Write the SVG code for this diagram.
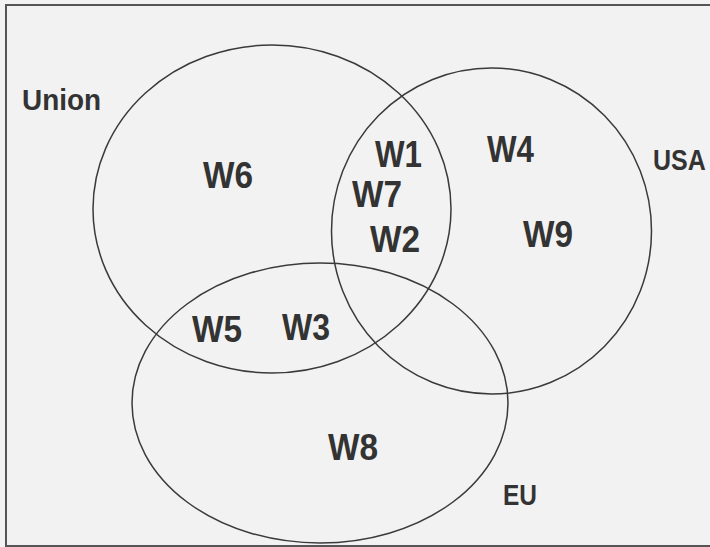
<svg xmlns="http://www.w3.org/2000/svg" width="710" height="547" viewBox="0 0 710 547">
<style>
.set{fill:none;stroke:#3a3a3a;stroke-width:1.5}
.lab{font-family:"Liberation Sans",Arial,sans-serif;font-weight:bold;font-size:30px;fill:#333}
.w{font-family:"Liberation Sans",Arial,sans-serif;font-weight:bold;font-size:36px;fill:#333}
</style>
<rect x="0" y="0" width="710" height="547" fill="#f2f2f2"/>
<rect x="6" y="5" width="720" height="541" fill="#f2f2f2" stroke="#555" stroke-width="2"/>
<g id="connectors"></g>
<g id="union">
<ellipse class="set" cx="272" cy="209" rx="179" ry="164"/>
<text class="lab" x="22" y="110" textLength="79" lengthAdjust="spacingAndGlyphs">Union</text>
</g>
<g id="usa">
<ellipse class="set" cx="491.5" cy="231" rx="160" ry="163"/>
<text class="lab" x="653" y="148" transform="scale(1,1.15)" style="font-size:25px">USA</text>
</g>
<g id="eu">
<ellipse class="set" cx="320" cy="403" rx="188" ry="140"/>
<text class="lab" x="503" y="505" textLength="34" lengthAdjust="spacingAndGlyphs">EU</text>
</g>
<g id="w1"><text class="w" x="375" y="167" textLength="47" lengthAdjust="spacingAndGlyphs">W1</text></g>
<g id="w2"><text class="w" x="370" y="252" textLength="50" lengthAdjust="spacingAndGlyphs">W2</text></g>
<g id="w3"><text class="w" x="282" y="340" textLength="48" lengthAdjust="spacingAndGlyphs">W3</text></g>
<g id="w4"><text class="w" x="487" y="162" textLength="47" lengthAdjust="spacingAndGlyphs">W4</text></g>
<g id="w5"><text class="w" x="192" y="342" textLength="50" lengthAdjust="spacingAndGlyphs">W5</text></g>
<g id="w6"><text class="w" x="203" y="188" textLength="50" lengthAdjust="spacingAndGlyphs">W6</text></g>
<g id="w7"><text class="w" x="352" y="207" textLength="50" lengthAdjust="spacingAndGlyphs">W7</text></g>
<g id="w8"><text class="w" x="328" y="460" textLength="50" lengthAdjust="spacingAndGlyphs">W8</text></g>
<g id="w9"><text class="w" x="523" y="247" textLength="50" lengthAdjust="spacingAndGlyphs">W9</text></g>
</svg>
